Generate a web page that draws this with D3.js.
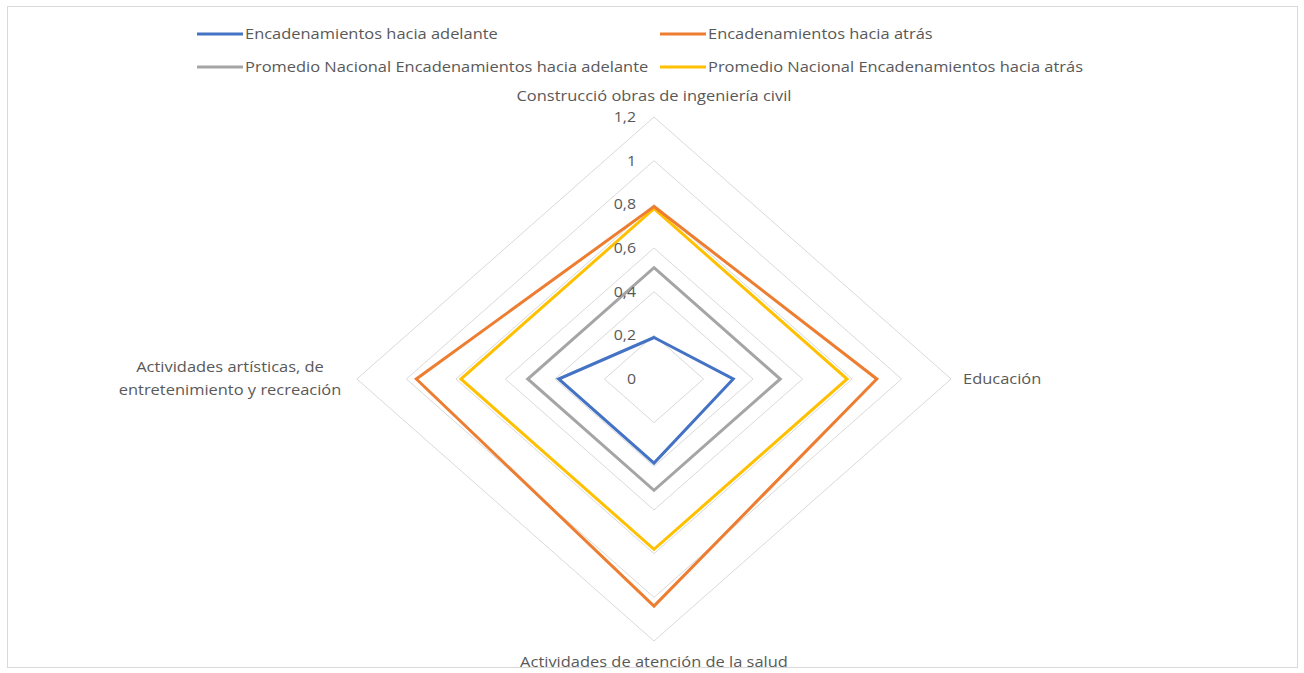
<!DOCTYPE html>
<html>
<head>
<meta charset="utf-8">
<script src="https://cdn.jsdelivr.net/npm/d3@7"></script>
<style>
  html, body { margin: 0; padding: 0; background: #fff; }
  svg { display: block; }
  text { font-family: "Open Sans", Lato, sans-serif; fill: #595959; }
</style>
</head>
<body>
<svg id="chart" width="1304" height="673"></svg>
<script>
// ---- data ----
const axesLabels = [
  "Construcció obras de ingeniería civil",
  "Educación",
  "Actividades de atención de la salud",
  "Actividades artísticas, de|entretenimiento y recreación"
];
const seriesNames = [
  "Encadenamientos hacia adelante",
  "Encadenamientos hacia atrás",
  "Promedio Nacional Encadenamientos hacia adelante",
  "Promedio Nacional Encadenamientos hacia atrás"
];
const adelante = [0.19, 0.32, 0.385, 0.385];
const atras = [0.79, 0.90, 1.04, 0.96];
const promAdelante = [0.51, 0.51, 0.51, 0.51];
const promAtras = [0.78, 0.78, 0.78, 0.78];
const tickValues = [0, 0.2, 0.4, 0.6, 0.8, 1, 1.2];
const tickLabels = ["0", "0,2", "0,4", "0,6", "0,8", "1", "1,2"];
const colors = ["#4472C4", "#ED7D31", "#A5A5A5", "#FFC000"];

// ---- layout ----
const W = 1304, H = 673;
const cx = 654, cy = 379, sx = 1.134;
const FS = 14.5;
const svg = d3.select("#chart");

svg.append("rect").attr("x", 7.5).attr("y", 6.5).attr("width", 1290).attr("height", 661)
  .attr("fill", "#fff").attr("stroke", "#d9d9d9").attr("stroke-width", 1);

const g = svg.append("g").attr("transform", `translate(${cx},${cy}) scale(${sx},1)`);
const gx = px => (px - cx) / sx;

const r = d3.scaleLinear().domain([0, 1.2]).range([0, 262]);
const angle = d3.scalePoint().domain(d3.range(axesLabels.length)).range([0, 2 * Math.PI * 3 / 4]);

const radial = d3.lineRadial()
  .angle((d, i) => angle(i))
  .radius(d => r(d))
  .curve(d3.curveLinearClosed);

// gridlines
g.selectAll("path.grid").data(tickValues).join("path")
  .attr("class", "grid")
  .attr("d", v => radial(axesLabels.map(() => v)))
  .attr("fill", "none")
  .attr("stroke", "#d9d9d9")
  .attr("stroke-width", 1)
  .attr("vector-effect", "non-scaling-stroke");

// series
const allSeries = [adelante, atras, promAdelante, promAtras];
const drawOrder = [2, 3, 1, 0];
g.selectAll("path.series").data(drawOrder).join("path")
  .attr("class", "series")
  .attr("d", i => radial(allSeries[i]))
  .attr("fill", "none")
  .attr("stroke", i => colors[i])
  .attr("stroke-width", 3)
  .attr("stroke-linejoin", "miter")
  .attr("vector-effect", "non-scaling-stroke");

// tick labels
g.selectAll("text.tick").data(tickValues).join("text")
  .attr("class", "tick")
  .attr("x", gx(636))
  .attr("y", v => -r(v))
  .attr("dy", "0.35em")
  .attr("text-anchor", "end")
  .attr("font-size", FS - 0.5)
  .text((v, i) => tickLabels[i]);

// category labels
const catPos = [
  { x: gx(654), y: 96 - cy, anchor: "middle" },
  { x: gx(963), y: 0, anchor: "start" },
  { x: gx(654), y: 662 - cy, anchor: "middle" },
  { x: gx(230), y: 367 - cy, anchor: "middle" }
];
axesLabels.forEach((lab, i) => {
  const p = catPos[i];
  const t = g.append("text")
    .attr("x", p.x).attr("y", p.y)
    .attr("text-anchor", p.anchor)
    .attr("font-size", FS);
  lab.split("|").forEach((line, k) => {
    t.append("tspan").attr("x", p.x).attr("dy", k === 0 ? "0.35em" : "1.55em").text(line);
  });
});

// legend
const legendPos = [
  { x: 197, y: 34 }, { x: 660, y: 34 }, { x: 197, y: 67 }, { x: 660, y: 67 }
];
const lg = svg.append("g").attr("transform", `translate(${cx},0) scale(${sx},1)`);
seriesNames.forEach((name, i) => {
  const p = legendPos[i];
  lg.append("line")
    .attr("x1", gx(p.x)).attr("x2", gx(p.x + 46))
    .attr("y1", p.y).attr("y2", p.y)
    .attr("stroke", colors[i]).attr("stroke-width", 3)
    .attr("vector-effect", "non-scaling-stroke");
  lg.append("text")
    .attr("x", gx(p.x + 48)).attr("y", p.y)
    .attr("dy", "0.35em")
    .attr("font-size", FS)
    .text(name);
});
</script>
</body>
</html>
